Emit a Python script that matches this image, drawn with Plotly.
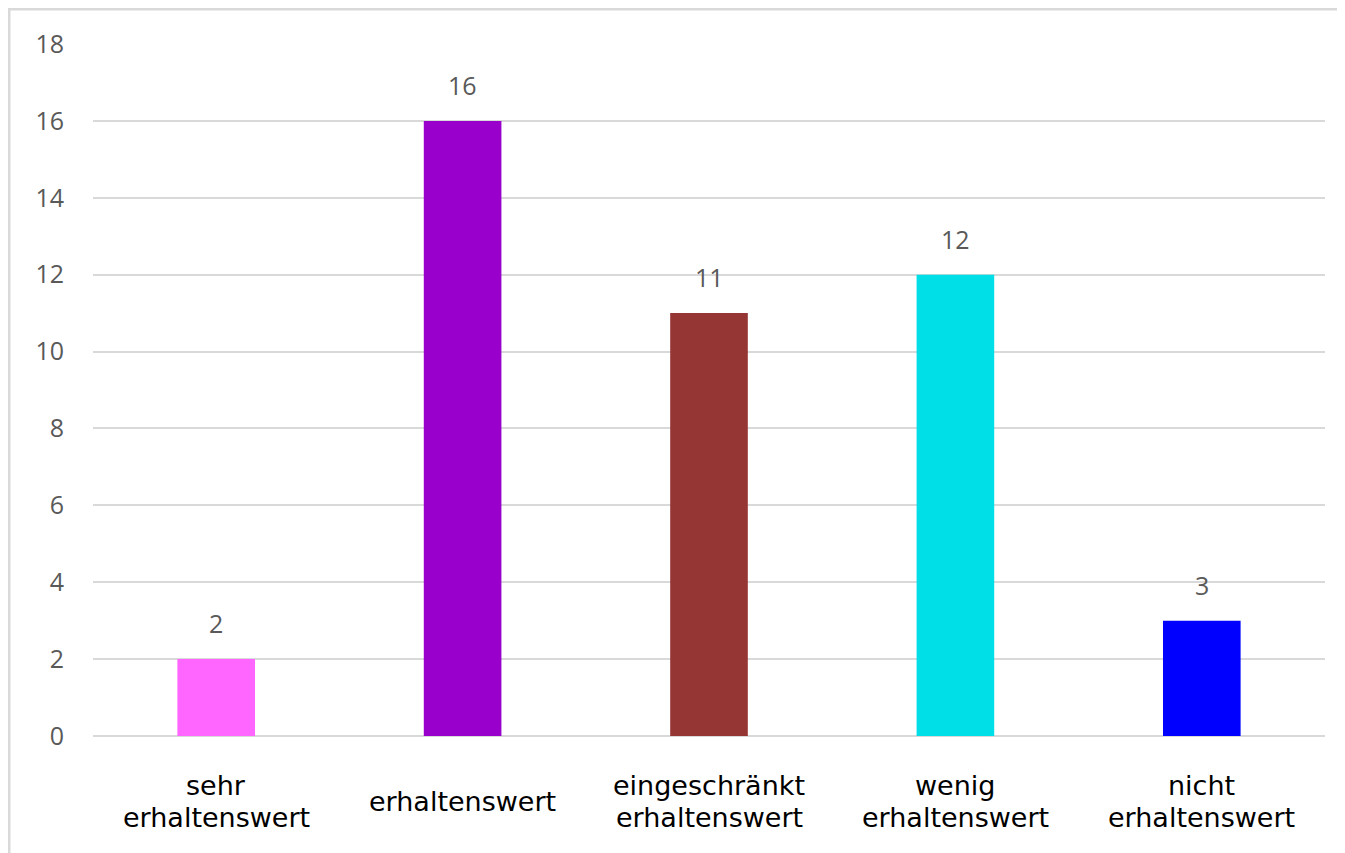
import plotly.graph_objects as go

categories = ["sehr<br>erhaltenswert", "erhaltenswert", "eingeschränkt<br>erhaltenswert",
              "wenig<br>erhaltenswert", "nicht<br>erhaltenswert"]
values = [2, 16, 11, 12, 3]
colors = ["#FF66FF", "#9900CC", "#963634", "#00DFE8", "#0000FF"]
tick_vals = [0, 2, 4, 6, 8, 10, 12, 14, 16, 18]

# page body has an 8px margin
W, H = 1337, 845
L, R, T, B = 85, 20, 36, 117
pw, ph = W - L - R, H - T - B

fig = go.Figure()
fig.add_trace(go.Bar(
    x=categories, y=values, marker=dict(color=colors, line=dict(width=0)),
    width=0.315, showlegend=False, hoverinfo="skip"))

num_font = dict(family="Open Sans, Liberation Sans, sans-serif", size=25, color="#595959")
for c, v in zip(categories, values):
    fig.add_annotation(x=c, y=v, text=str(v), showarrow=False, yanchor="middle",
                       yshift=36, font=num_font)
    lines = c.split("<br>")
    n = len(lines)
    for i, line in enumerate(lines):
        offset = -65 + (i - (n - 1) / 2) * -32
        fig.add_annotation(x=c, y=0, xref="x", yref="paper", text=line, showarrow=False,
                           yanchor="middle", yshift=offset, align="center",
                           font=dict(family="DejaVu Sans", size=27, color="#000000"))

fig.add_shape(type="rect", xref="paper", yref="paper",
              x0=(1 - L) / pw, x1=1.2, y0=-0.5, y1=1 + (T - 1) / ph,
              line=dict(color="#D9D9D9", width=3), layer="below")

fig.update_layout(
    width=W, height=H, margin=dict(l=L, r=R, t=T, b=B),
    plot_bgcolor="white", paper_bgcolor="white",
    xaxis=dict(showticklabels=False, showgrid=False, zeroline=False, showline=False, ticks=""),
    yaxis=dict(range=[0, 18], tickvals=tick_vals, showgrid=True, gridcolor="#D9D9D9", gridwidth=2,
               zeroline=True, zerolinecolor="#D9D9D9", zerolinewidth=2, showline=False,
               ticklabelstandoff=28, tickfont=num_font),
)
fig.write_html("out.html")
